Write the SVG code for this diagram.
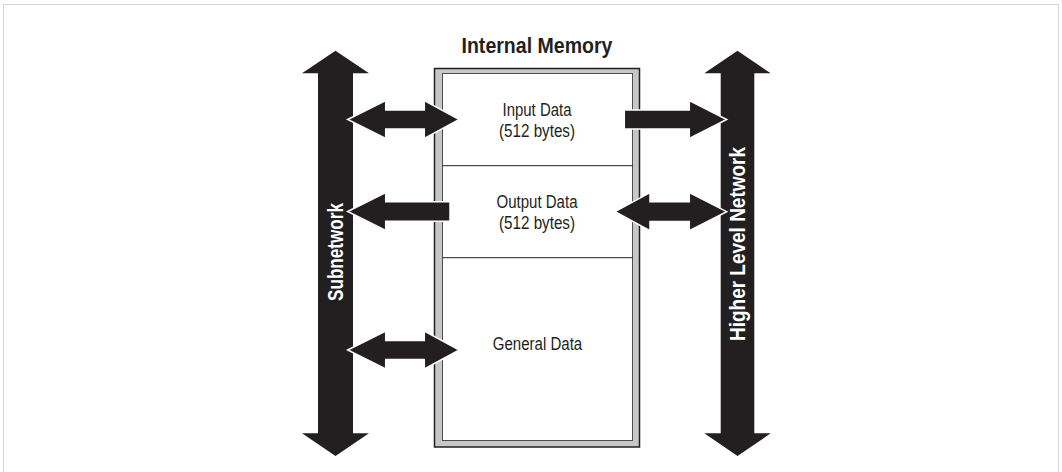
<svg xmlns="http://www.w3.org/2000/svg" width="1062" height="472" viewBox="0 0 1062 472">
<style>
.arrow{fill:#231f20;stroke:#ffffff;stroke-width:1.5;stroke-linejoin:miter}
.vbar{fill:#231f20;stroke:none}
.lbl{font-family:"Liberation Sans",Arial,sans-serif;font-size:17.5px;fill:#231f20;text-anchor:middle}
.title{font-family:"Liberation Sans",Arial,sans-serif;font-size:22.5px;font-weight:bold;fill:#231f20;text-anchor:middle}
.net{font-family:"Liberation Sans",Arial,sans-serif;font-size:21.5px;font-weight:bold;fill:#ffffff;text-anchor:middle}
.div{stroke:#231f20;stroke-width:1}
</style>
<rect x="3.5" y="4.5" width="1055" height="480" fill="#ffffff" stroke="#d6d6d6" stroke-width="1"/>

<g id="memory">
  <text class="title" x="537" y="53.3" textLength="151" lengthAdjust="spacingAndGlyphs">Internal Memory</text>
  <rect x="434.5" y="68.5" width="205" height="378.5" fill="#c6c7c9" stroke="#231f20" stroke-width="1.5"/>
  <rect x="442.5" y="73.5" width="190" height="367" fill="#ffffff" stroke="#4d4d4f" stroke-width="1"/>
</g>
<g id="input-data">
  <line class="div" x1="442.5" y1="165.7" x2="632.5" y2="165.7"/>
  <text class="lbl" x="537" y="116" textLength="69" lengthAdjust="spacingAndGlyphs">Input Data</text>
  <text class="lbl" x="537" y="137" textLength="76" lengthAdjust="spacingAndGlyphs">(512 bytes)</text>
</g>
<g id="output-data">
  <line class="div" x1="442.5" y1="257.7" x2="632.5" y2="257.7"/>
  <text class="lbl" x="537" y="207.5" textLength="81" lengthAdjust="spacingAndGlyphs">Output Data</text>
  <text class="lbl" x="537" y="229" textLength="76" lengthAdjust="spacingAndGlyphs">(512 bytes)</text>
</g>
<g id="general-data">
  <text class="lbl" x="537.5" y="349.5" textLength="89.5" lengthAdjust="spacingAndGlyphs">General Data</text>
</g>

<g id="subnetwork">
  <path class="vbar" d="M335.5,50.7 L369,73.3 L353,73.3 L353,433.3 L369,433.3 L335.5,456 L302,433.3 L318,433.3 L318,73.3 L302,73.3 Z"/>
  <text class="net" transform="translate(335,252) rotate(-90)" x="0" y="7.5" textLength="98" lengthAdjust="spacingAndGlyphs">Subnetwork</text>
</g>
<g id="higher-level-network">
  <path class="vbar" d="M737.5,50.7 L770.7,73.3 L754.3,73.3 L754.3,433.3 L770.7,433.3 L737.5,456 L704.3,433.3 L720.7,433.3 L720.7,73.3 L704.3,73.3 Z"/>
  <text class="net" transform="translate(737,244) rotate(-90)" x="0" y="7.5" textLength="194" lengthAdjust="spacingAndGlyphs">Higher Level Network</text>
</g>

<g id="connectors">
  <path class="arrow" d="M347.7,119.5 L385.7,100.7 L385.7,110 L424.3,110 L424.3,100.7 L459.3,119.5 L424.3,138.3 L424.3,129 L385.7,129 L385.7,138.3 Z"/>
  <path class="arrow" d="M624.3,110 L689.3,110 L689.3,100.7 L726.7,119.5 L689.3,138.3 L689.3,129 L624.3,129 Z"/>
  <path class="arrow" d="M347.7,211.5 L385.7,192.5 L385.7,201.8 L450,201.8 L450,221.2 L385.7,221.2 L385.7,230.5 Z"/>
  <path class="arrow" d="M615,211.7 L650,192.7 L650,201.8 L689.3,201.8 L689.3,192.7 L726.7,211.7 L689.3,230.7 L689.3,221.6 L650,221.6 L650,230.7 Z"/>
  <path class="arrow" d="M347.7,350 L385.7,331 L385.7,340.5 L424.3,340.5 L424.3,331 L459.3,350 L424.3,369 L424.3,359.5 L385.7,359.5 L385.7,369 Z"/>
</g>
</svg>
